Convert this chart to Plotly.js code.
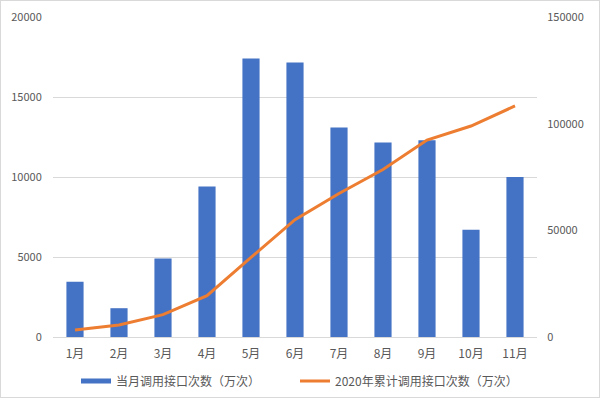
<!DOCTYPE html>
<html>
<head>
<meta charset="utf-8">
<script src="https://cdn.plot.ly/plotly-3.0.1.min.js"></script>
<style>
html,body{margin:0;padding:0;background:#fff;}
#chart{width:600px;height:398px;box-sizing:border-box;border:1px solid #d9d9d9;}
</style>
</head>
<body>
<div id="chart"></div>
<script>
const months = ["1月","2月","3月","4月","5月","6月","7月","8月","9月","10月","11月"];
const monthlyCalls = [3450, 1800, 4900, 9400, 17400, 17150, 13100, 12150, 12300, 6700, 10000];
const cumulativeCalls = [3300, 5600, 10500, 19400, 37300, 55000, 67300, 78500, 92300, 98900, 108300];
const barName = "当月调用接口次数（万次）";
const lineName = "2020年累计调用接口次数（万次）";
const leftTicks = [0, 5000, 10000, 15000, 20000];
const rightTicks = [0, 50000, 100000, 150000];

const blue = "#4472C4", orange = "#ED7D31", textColor = "#595959";
const fontFam = "'Noto Sans CJK SC', 'Noto Sans', sans-serif";

const traces = [
  {type:"bar", x:months, y:monthlyCalls, name:barName, marker:{color:blue}, showlegend:false, yaxis:"y"},
  {type:"scatter", mode:"lines", x:[null], y:[null], name:barName, line:{color:blue, width:5}, yaxis:"y", hoverinfo:"skip"},
  {type:"scatter", mode:"lines", x:months, y:cumulativeCalls, name:lineName, line:{color:orange, width:3}, yaxis:"y2"}
];

const layout = {
  width:598, height:396,
  margin:{l:52, r:62, t:16, b:60, autoexpand:false},
  paper_bgcolor:"#fff", plot_bgcolor:"#fff",
  font:{family:fontFam, color:textColor, size:11},
  bargap:0.61,
  showlegend:true,
  legend:{orientation:"h", x:0.5, xanchor:"center", y:-0.1375, yanchor:"middle", font:{size:12, color:textColor}, itemwidth:30, entrywidth:174, tracegroupgap:0},
  xaxis:{type:"category", showgrid:false, zeroline:false, showline:false, ticks:"outside", ticklen:6, tickcolor:"rgba(0,0,0,0)", tickfont:{size:12, color:textColor}},
  yaxis:{range:[0,20000], tickvals:leftTicks, tickformat:"d", showgrid:true, gridcolor:"#d9d9d9", gridwidth:1, zeroline:true, zerolinecolor:"#d9d9d9", showline:false, ticks:"outside", ticklen:8, tickcolor:"rgba(0,0,0,0)", tickfont:{size:11, color:textColor}},
  yaxis2:{range:[0,150000], tickvals:rightTicks, tickformat:"d", overlaying:"y", side:"right", showgrid:false, zeroline:false, showline:false, ticks:"outside", ticklen:7, tickcolor:"rgba(0,0,0,0)", tickfont:{size:11, color:textColor}}
};

Plotly.newPlot("chart", traces, layout, {displayModeBar:false, staticPlot:true});
</script>
</body>
</html>
